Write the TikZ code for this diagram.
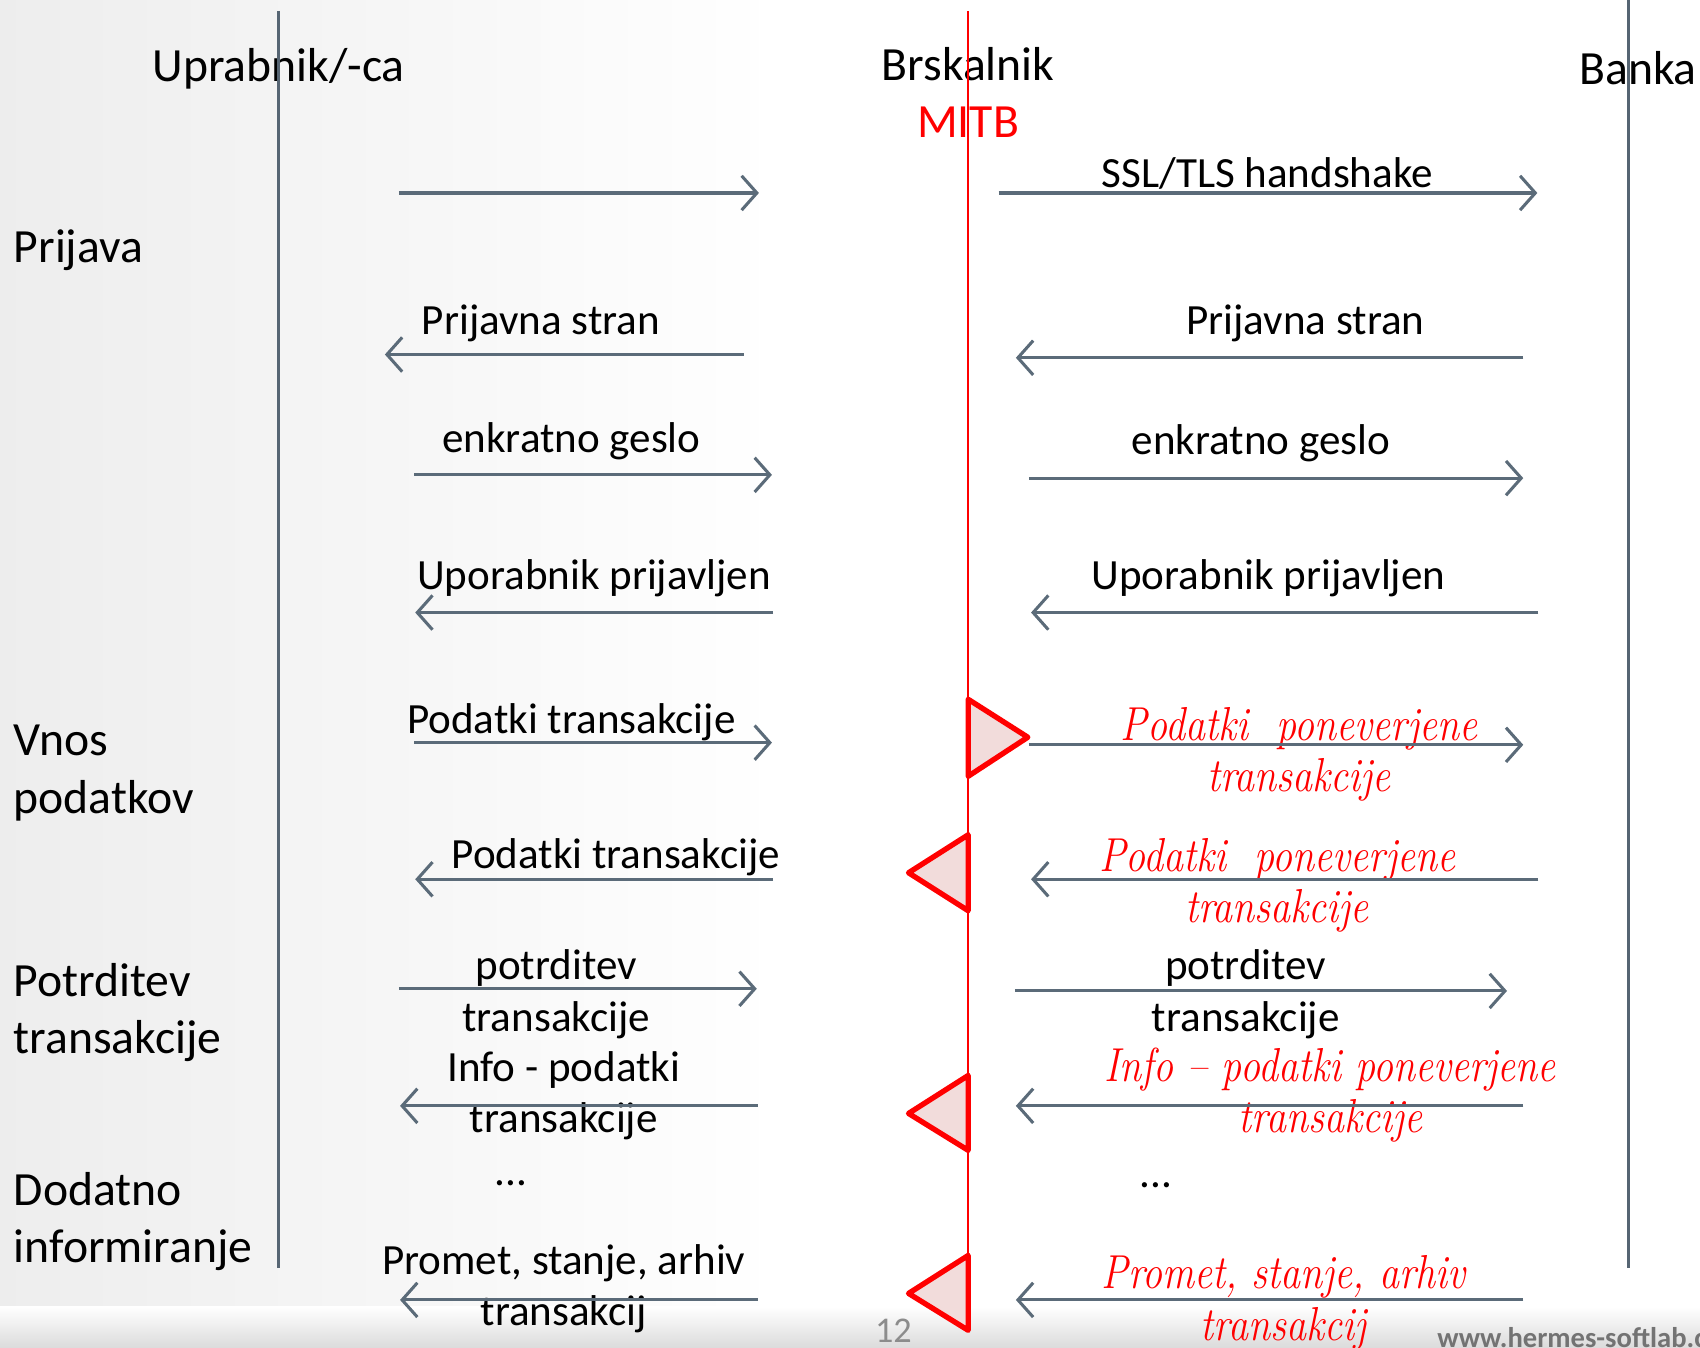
\documentclass[tikz,border=0pt]{standalone}
\usepackage{graphicx}
\usepackage{fontspec}
\newfontfamily\calib{Carlito}
\usetikzlibrary{arrows.meta}
\definecolor{msggray}{HTML}{5B6B79}
\definecolor{lifegray}{HTML}{566573}
\definecolor{mitbred}{HTML}{FF0000}
\definecolor{trifill}{HTML}{F2DCDB}
% narrow, tall italic lines
\newcommand{\squeeze}[1]{\scalebox{0.84}[1]{\begin{tabular}{@{}c@{}}#1\end{tabular}}}

\begin{document}
\begin{tikzpicture}[x=0.01cm, y=-0.01cm,
  lbl/.style={font=\calib\fontsize{12.5}{15}\selectfont, inner sep=0pt},
  msglbl/.style={font=\calib\fontsize{11.3}{13.4}\selectfont, align=center, inner sep=0pt},
  redlbl/.style={font=\rmfamily\itshape\fontsize{12.5}{13.4}\selectfont, text=mitbred, inner sep=0pt},
  msg/.style={draw=msggray, line width=0.8pt, -{Straight Barb[length=4pt,width=9pt]}},
  lifeline/.style={draw=lifegray, line width=0.7pt},
  hook/.style={draw=mitbred, line width=1.4pt, line join=round, fill=trifill}]
   \useasboundingbox (0,0) rectangle (1568,1243);
   \clip (0,0) rectangle (1568,1243);
   % background of the slide
   \shade[left color=black!7, right color=white] (0,0) rectangle (720,1243);
   \shade[top color=white, bottom color=black!14] (0,1205) rectangle (1568,1243);

   % actors and phases
   \node[lbl] (usr) at (257,63) {Uprabnik/-ca};
   \node[lbl] (brs) at (893,59) {Brskalnik};
   \node[lbl, text=mitbred] (mitb) at (893,113) {MITB};
   \node[lbl, anchor=west] (bnk) at (1456,63) {Banka};
   \node[lbl, anchor=west] (ph1) at (12,231) {Prijava};
   \node[lbl, anchor=west, align=left] (ph2) at (12,713) {Vnos\\podatkov};
   \node[lbl, anchor=west, align=left] (ph3) at (12,934) {Potrditev\\transakcije};
   \node[lbl, anchor=west, align=left] (ph4) at (12,1127) {Dodatno\\informiranje};

   % lifelines
   \coordinate (usrtop) at (257,10);
   \coordinate (usrbot) at (257,1170);
   \coordinate (brstop) at (893,10);
   \coordinate (brsbot) at (893,1228);
   \coordinate (bnktop) at (1502,0);
   \coordinate (bnkbot) at (1502,1170);
   \draw[lifeline] (usrtop) -- (usrbot);
   \draw[lifeline] (bnktop) -- (bnkbot);
   \draw[draw=mitbred, line width=0.6pt] (brstop) -- (brsbot);

   % user <-> browser
   \node[msglbl] (ul2) at (499,298) {Prijavna stran};
   \node[msglbl] (ul3) at (527,407) {enkratno geslo};
   \node[msglbl] (ul4) at (548,533) {Uporabnik prijavljen};
   \node[msglbl] (ul5) at (527,666) {Podatki transakcije};
   \node[msglbl] (ul6) at (568,791) {Podatki transakcije};
   \node[msglbl] (ul7) at (513,917) {potrditev\\transakcije};
   \node[msglbl] (ul8) at (520,1011) {Info - podatki\\transakcije};
   \node[msglbl] (ul9) at (471,1091) {...};
   \node[msglbl] (ul10) at (520,1189) {Promet, stanje, arhiv\\transakcij};
   \coordinate (u1a) at (368,178);  \coordinate (u1b) at (700,178);
   \coordinate (u2a) at (686,327);  \coordinate (u2b) at (355,327);
   \coordinate (u3a) at (382,438);  \coordinate (u3b) at (712,438);
   \coordinate (u4a) at (713,565);  \coordinate (u4b) at (383,565);
   \coordinate (u5a) at (382,685);  \coordinate (u5b) at (712,685);
   \coordinate (u6a) at (713,811);  \coordinate (u6b) at (383,811);
   \coordinate (u7a) at (368,912);  \coordinate (u7b) at (698,912);
   \coordinate (u8a) at (699,1020); \coordinate (u8b) at (369,1020);
   \coordinate (u10a) at (699,1199); \coordinate (u10b) at (369,1199);
   \draw[msg] (u1a) -- (u1b);
   \draw[msg] (u2a) -- (u2b);
   \draw[msg] (u3a) -- (u3b);
   \draw[msg] (u4a) -- (u4b);
   \draw[msg] (u5a) -- (u5b);
   \draw[msg] (u6a) -- (u6b);
   \draw[msg] (u7a) -- (u7b);
   \draw[msg] (u8a) -- (u8b);
   \draw[msg] (u10a) -- (u10b);

   % browser <-> bank
   \node[msglbl] (bl1) at (1169,160) {SSL/TLS handshake};
   \node[msglbl] (bl2) at (1204,298) {Prijavna stran};
   \node[msglbl] (bl3) at (1163,409) {enkratno geslo};
   \node[msglbl] (bl4) at (1170,533) {Uporabnik prijavljen};
   \node[redlbl] (bl5) at (1198,697) {\squeeze{Podatki\ \ poneverjene\\transakcije}};
   \node[redlbl] (bl6) at (1178,818) {\squeeze{Podatki\ \ poneverjene\\transakcije}};
   \node[msglbl] (bl7) at (1149,917) {potrditev\\transakcije};
   \node[redlbl] (bl8) at (1227,1012) {\squeeze{Info -- podatki poneverjene\\transakcije}};
   \node[msglbl] (bl9) at (1066,1093) {...};
   \node[redlbl] (bl10) at (1184,1203) {\squeeze{Promet, stanje, arhiv\\transakcij}};
   \coordinate (b1a) at (921,178);   \coordinate (b1b) at (1418,178);
   \coordinate (b2a) at (1405,330);  \coordinate (b2b) at (937,330);
   \coordinate (b3a) at (949,441);   \coordinate (b3b) at (1405,441);
   \coordinate (b4a) at (1419,565);  \coordinate (b4b) at (951,565);
   \coordinate (b5a) at (949,687);   \coordinate (b5b) at (1405,687);
   \coordinate (b6a) at (1419,811);  \coordinate (b6b) at (951,811);
   \coordinate (b7a) at (936,914);   \coordinate (b7b) at (1390,914);
   \coordinate (b8a) at (1405,1020); \coordinate (b8b) at (937,1020);
   \coordinate (b10a) at (1405,1199); \coordinate (b10b) at (937,1199);
   \draw[msg] (b1a) -- (b1b);
   \draw[msg] (b2a) -- (b2b);
   \draw[msg] (b3a) -- (b3b);
   \draw[msg] (b4a) -- (b4b);
   \draw[msg] (b5a) -- (b5b);
   \draw[msg] (b6a) -- (b6b);
   \draw[msg] (b7a) -- (b7b);
   \draw[msg] (b8a) -- (b8b);
   \draw[msg] (b10a) -- (b10b);

   % man in the browser
   \draw[hook] (893,645) -- (893,716) -- (948,680) -- cycle;
   \draw[hook] (893,770) -- (893,840) -- (838,805) -- cycle;
   \draw[hook] (893,992) -- (893,1061) -- (838,1027) -- cycle;
   \draw[hook] (893,1158) -- (893,1227) -- (838,1193) -- cycle;

   % footer
   \node[font=\calib\fontsize{9.5}{11}\selectfont, text=black!45, inner sep=0pt] (pgno) at (824,1227) {12};
   \node[font=\calib\bfseries\fontsize{7.5}{9}\selectfont, text=black!55, anchor=west, inner sep=0pt] (url) at (1325,1234) {www.hermes-softlab.com};
\end{tikzpicture}
\end{document}
